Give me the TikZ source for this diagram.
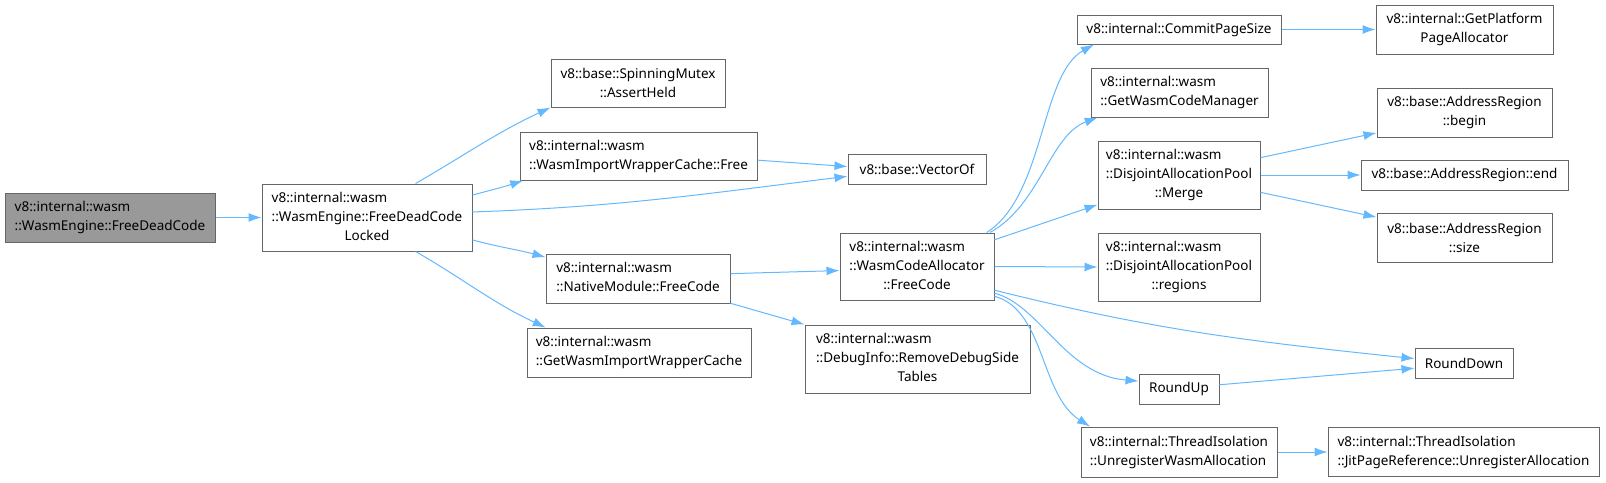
\documentclass[tikz,border=0pt]{standalone}
\usepackage{fontspec}
\setmainfont{Noto Sans}
\usetikzlibrary{arrows.meta}

\definecolor{boxgray}{HTML}{666666}
\definecolor{rootgray}{HTML}{999999}
\definecolor{callblue}{HTML}{63B8FF}

\tikzset{
  fnbox/.style={draw=boxgray, fill=white, line width=1pt, inner sep=0pt, align=center},
  calledge/.style={draw=callblue, line width=1pt, -{Latex[length=13pt,width=9pt]}}
}

% left aligned lines, last one may be centred
\newcommand{\lft}[1]{\begin{tabular}{@{}l@{}}#1\end{tabular}}
\newcommand{\ctr}[1]{\multicolumn{1}{@{}c@{}}{#1}}

\begin{document}
\begin{tikzpicture}[x=1pt, y=-1pt, font=\fontsize{13.5}{19}\selectfont]
\useasboundingbox (0,0) rectangle (1606,482);

\node[fnbox, fill=rootgray, minimum width=210pt, minimum height=49pt] (root) at (110,217.5) {\lft{v8::internal::wasm\\::WasmEngine::FreeDeadCode}};
\node[fnbox, minimum width=210pt, minimum height=67pt] (locked) at (367,217.5) {\lft{v8::internal::wasm\\::WasmEngine::FreeDeadCode\\\ctr{Locked}}};

\node[fnbox, minimum width=174pt, minimum height=48pt] (held) at (638,83) {v8::base::SpinningMutex\\::AssertHeld};
\node[fnbox, minimum width=237pt, minimum height=48pt] (cachefree) at (638.5,156) {\lft{v8::internal::wasm\\::WasmImportWrapperCache::Free}};
\node[fnbox, minimum width=184pt, minimum height=49pt] (nativefree) at (638,278.5) {\lft{v8::internal::wasm\\::NativeModule::FreeCode}};
\node[fnbox, minimum width=224pt, minimum height=49pt] (getcache) at (639,352.5) {\lft{v8::internal::wasm\\::GetWasmImportWrapperCache}};

\node[fnbox, minimum width=138pt, minimum height=30pt] (vectorof) at (917,169) {v8::base::VectorOf};
\node[fnbox, minimum width=154pt, minimum height=67pt] (allocfree) at (917,266.5) {\lft{v8::internal::wasm\\::WasmCodeAllocator\\\ctr{::FreeCode}}};
\node[fnbox, minimum width=225pt, minimum height=68pt] (removedebug) at (917.5,359) {\lft{v8::internal::wasm\\::DebugInfo::RemoveDebugSide\\\ctr{Tables}}};

\node[fnbox, minimum width=204pt, minimum height=29pt] (commitsize) at (1179,29.5) {v8::internal::CommitPageSize};
\node[fnbox, minimum width=177pt, minimum height=49pt] (codemgr) at (1179.5,92.5) {\lft{v8::internal::wasm\\::GetWasmCodeManager}};
\node[fnbox, minimum width=162pt, minimum height=68pt] (poolmerge) at (1179,175) {\lft{v8::internal::wasm\\::DisjointAllocationPool\\\ctr{::Merge}}};
\node[fnbox, minimum width=162pt, minimum height=68pt] (poolregions) at (1179,267) {\lft{v8::internal::wasm\\::DisjointAllocationPool\\\ctr{::regions}}};
\node[fnbox, minimum width=80pt, minimum height=30pt] (roundup) at (1179,389) {RoundUp};
\node[fnbox, minimum width=196pt, minimum height=50pt] (unregwasm) at (1179,452) {\lft{v8::internal::ThreadIsolation\\::UnregisterWasmAllocation}};

\node[fnbox, minimum width=177pt, minimum height=49pt] (platalloc) at (1464.5,29.5) {v8::internal::GetPlatform\\PageAllocator};
\node[fnbox, minimum width=175pt, minimum height=49pt] (regbegin) at (1464.5,112.5) {v8::base::AddressRegion\\::begin};
\node[fnbox, minimum width=207pt, minimum height=30pt] (regend) at (1464.5,175) {v8::base::AddressRegion::end};
\node[fnbox, minimum width=175pt, minimum height=49pt] (regsize) at (1464.5,237.5) {v8::base::AddressRegion\\::size};
\node[fnbox, minimum width=98pt, minimum height=30pt] (rounddown) at (1464,363) {RoundDown};
\node[fnbox, minimum width=271pt, minimum height=49pt] (unregjit) at (1463.5,452) {\lft{v8::internal::ThreadIsolation\\::JitPageReference::UnregisterAllocation}};

% calls
\draw[calledge] (root.east) -- (locked.west);
\draw[calledge] (locked.35) to[out=30,in=205] (held.south west);
\draw[calledge] (locked.12) to[out=15,in=198] (cachefree.192);
\draw[calledge] (locked.3) to[out=2,in=187] (vectorof.186);
\draw[calledge] (cachefree.-2) -- (vectorof.178);
\draw[calledge] (locked.-12) to[out=-15,in=165] (nativefree.167);
\draw[calledge] (locked.-35) to[out=-30,in=155] (getcache.165);
\draw[calledge] (nativefree.3) -- (allocfree.183);
\draw[calledge] (nativefree.-15) -- (removedebug.north west);

\draw[calledge] (allocfree.26) .. controls (1045,195) and (1040,75) .. (commitsize.190);
\draw[calledge] (allocfree.25) .. controls (1040,205) and (1050,135) .. (codemgr.197);
\draw[calledge] (allocfree.19) -- (poolmerge.200);
\draw[calledge] (allocfree.east) -- (poolregions.west);
\draw[calledge] (allocfree.-17) to[out=-14,in=174] (rounddown.175);
\draw[calledge] (allocfree.-19) .. controls (1040,305) and (1065,375) .. (roundup.169);
\draw[calledge] (allocfree.-21) .. controls (1045,310) and (1040,395) .. (unregwasm.164);

\draw[calledge] (commitsize.east) -- (platalloc.west);
\draw[calledge] (poolmerge.12) -- (regbegin.193);
\draw[calledge] (poolmerge.east) -- (regend.west);
\draw[calledge] (poolmerge.-12) -- (regsize.167);
\draw[calledge] (roundup.6) -- (rounddown.186);
\draw[calledge] (unregwasm.east) -- (unregjit.west);
\end{tikzpicture}
\end{document}
